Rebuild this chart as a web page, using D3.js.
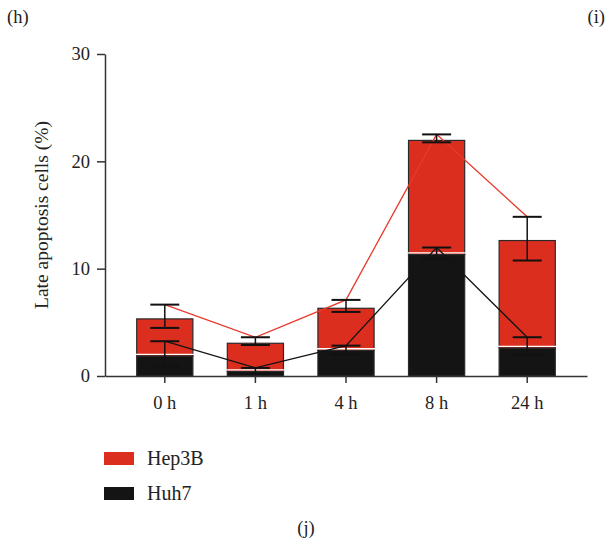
<!DOCTYPE html>
<html>
<head>
<meta charset="utf-8">
<script src="https://cdn.jsdelivr.net/npm/d3@7"></script>
<style>
  body { margin: 0; background: #fff; }
  svg { display: block; font-family: "Liberation Serif", "DejaVu Serif", serif; }
</style>
</head>
<body>
<div id="chart"></div>
<script>
const categories = ['0 h', '1 h', '4 h', '8 h', '24 h'];
// Huh7 bar (bottom of the stack) and Hep3B segment on top of it
const huh7 = [1.87, 0.42, 2.39, 11.32, 2.61];
const hep3b = [3.45, 2.63, 3.92, 10.63, 10.01];
// error bar ends
const huh7ErrHigh = [3.24, 0.75, 2.83, 11.97, 3.61];
const huh7ErrLow = [0.9, 0.2, 2.0, 10.9, 1.96];
const hep3bErrHigh = [6.65, 3.61, 7.09, 22.51, 14.83];
const hep3bErrLow = [4.48, 2.89, 5.97, 21.77, 10.76];
const yTicks = [0, 10, 20, 30];

const width = 609, height = 545;
const margin = { top: 54, right: 22, bottom: 169, left: 105 };
const redColor = '#dc2e1e';
const blackColor = '#141414';
const lineRed = '#e8392b';

const svg = d3.select('#chart').append('svg')
  .attr('width', width)
  .attr('height', height);

const innerW = width - margin.left - margin.right;
const innerH = height - margin.top - margin.bottom;

const g = svg.append('g')
  .attr('transform', `translate(${margin.left},${margin.top})`);

const rows = categories.map((c, i) => ({ cat: c, huh7: huh7[i], hep3b: hep3b[i] }));
const series = d3.stack().keys(['huh7', 'hep3b'])(rows);

const x = d3.scaleBand()
  .domain(categories)
  .range([0, innerW])
  .paddingInner(0.38)
  .paddingOuter(0.35);

const y = d3.scaleLinear()
  .domain([0, 30])
  .range([innerH, 0]);

const cx = c => x(c) + x.bandwidth() / 2;

// Bars
g.append('g')
  .selectAll('g')
  .data(series)
  .join('g')
    .attr('fill', d => d.key === 'huh7' ? blackColor : redColor)
  .selectAll('rect')
  .data(d => d)
  .join('rect')
    .attr('x', d => x(d.data.cat))
    .attr('y', d => y(d[1]))
    .attr('width', x.bandwidth())
    .attr('height', d => y(d[0]) - y(d[1]))
    .attr('stroke', '#2a2a2a')
    .attr('stroke-width', 1.2);

// white separator above the black bars
g.append('g')
  .selectAll('line')
  .data(rows)
  .join('line')
    .attr('x1', d => x(d.cat) - 1)
    .attr('x2', d => x(d.cat) + x.bandwidth() + 1)
    .attr('y1', d => y(d.huh7) - 1.6)
    .attr('y2', d => y(d.huh7) - 1.6)
    .attr('stroke', '#fff')
    .attr('stroke-width', 1.3);

// connecting lines through the upper error caps
const line = d3.line()
  .x((d, i) => cx(categories[i]))
  .y(d => y(d));

g.append('path')
  .datum(hep3bErrHigh)
  .attr('d', line)
  .attr('fill', 'none')
  .attr('stroke', lineRed)
  .attr('stroke-width', 1.3);

g.append('path')
  .datum(huh7ErrHigh)
  .attr('d', line)
  .attr('fill', 'none')
  .attr('stroke', blackColor)
  .attr('stroke-width', 1.3);

// Error bars
function errorBars(lo, hi) {
  const eg = g.append('g').attr('stroke', '#111');
  const capW = 14.5;
  categories.forEach((c, i) => {
    eg.append('line')
      .attr('x1', cx(c)).attr('x2', cx(c))
      .attr('y1', y(lo[i])).attr('y2', y(hi[i]))
      .attr('stroke-width', 1.5);
    [lo[i], hi[i]].forEach(v => {
      eg.append('line')
        .attr('x1', cx(c) - capW).attr('x2', cx(c) + capW)
        .attr('y1', y(v)).attr('y2', y(v))
        .attr('stroke-width', 2);
    });
  });
}
errorBars(huh7ErrLow, huh7ErrHigh);
errorBars(hep3bErrLow, hep3bErrHigh);

// X-axis
const xAxis = g.append('g')
  .attr('transform', `translate(0,${innerH})`)
  .call(d3.axisBottom(x).tickSize(7).tickSizeOuter(0).tickPadding(13));

// Y-axis
const yAxis = g.append('g')
  .call(d3.axisLeft(y).tickValues(yTicks).tickSize(8).tickSizeOuter(0).tickPadding(7));

[xAxis, yAxis].forEach(a => {
  a.selectAll('.domain').attr('stroke', '#333').attr('stroke-width', 1.5);
  a.selectAll('.tick line').attr('stroke', '#333').attr('stroke-width', 1.5);
  a.selectAll('text')
    .style('font-family', '"Liberation Serif", serif')
    .style('font-size', '18.5px')
    .attr('fill', '#222');
});

// Y-axis title
svg.append('text')
  .attr('transform', `translate(48,${margin.top + innerH / 2}) rotate(-90)`)
  .attr('text-anchor', 'middle')
  .style('font-size', '19.5px')
  .attr('fill', '#222')
  .text('Late apoptosis cells (%)');

// Legend
const legend = svg.append('g').attr('transform', 'translate(104,452)');
[['Hep3B', redColor], ['Huh7', blackColor]].forEach(([name, col], i) => {
  legend.append('rect')
    .attr('x', 0).attr('y', i * 35)
    .attr('width', 30).attr('height', 13)
    .attr('fill', col);
  legend.append('text')
    .attr('x', 43).attr('y', i * 35 + 13)
    .style('font-size', '20px')
    .attr('fill', '#222')
    .text(name);
});

// Panel letters
svg.append('text').attr('x', 7).attr('y', 23).style('font-size', '18.5px').attr('fill', '#222').text('(h)');
svg.append('text').attr('x', 605).attr('y', 23).attr('text-anchor', 'end').style('font-size', '18.5px').attr('fill', '#222').text('(i)');
svg.append('text').attr('x', 306).attr('y', 534).attr('text-anchor', 'middle').style('font-size', '18.5px').attr('fill', '#222').text('(j)');
</script>
</body>
</html>
